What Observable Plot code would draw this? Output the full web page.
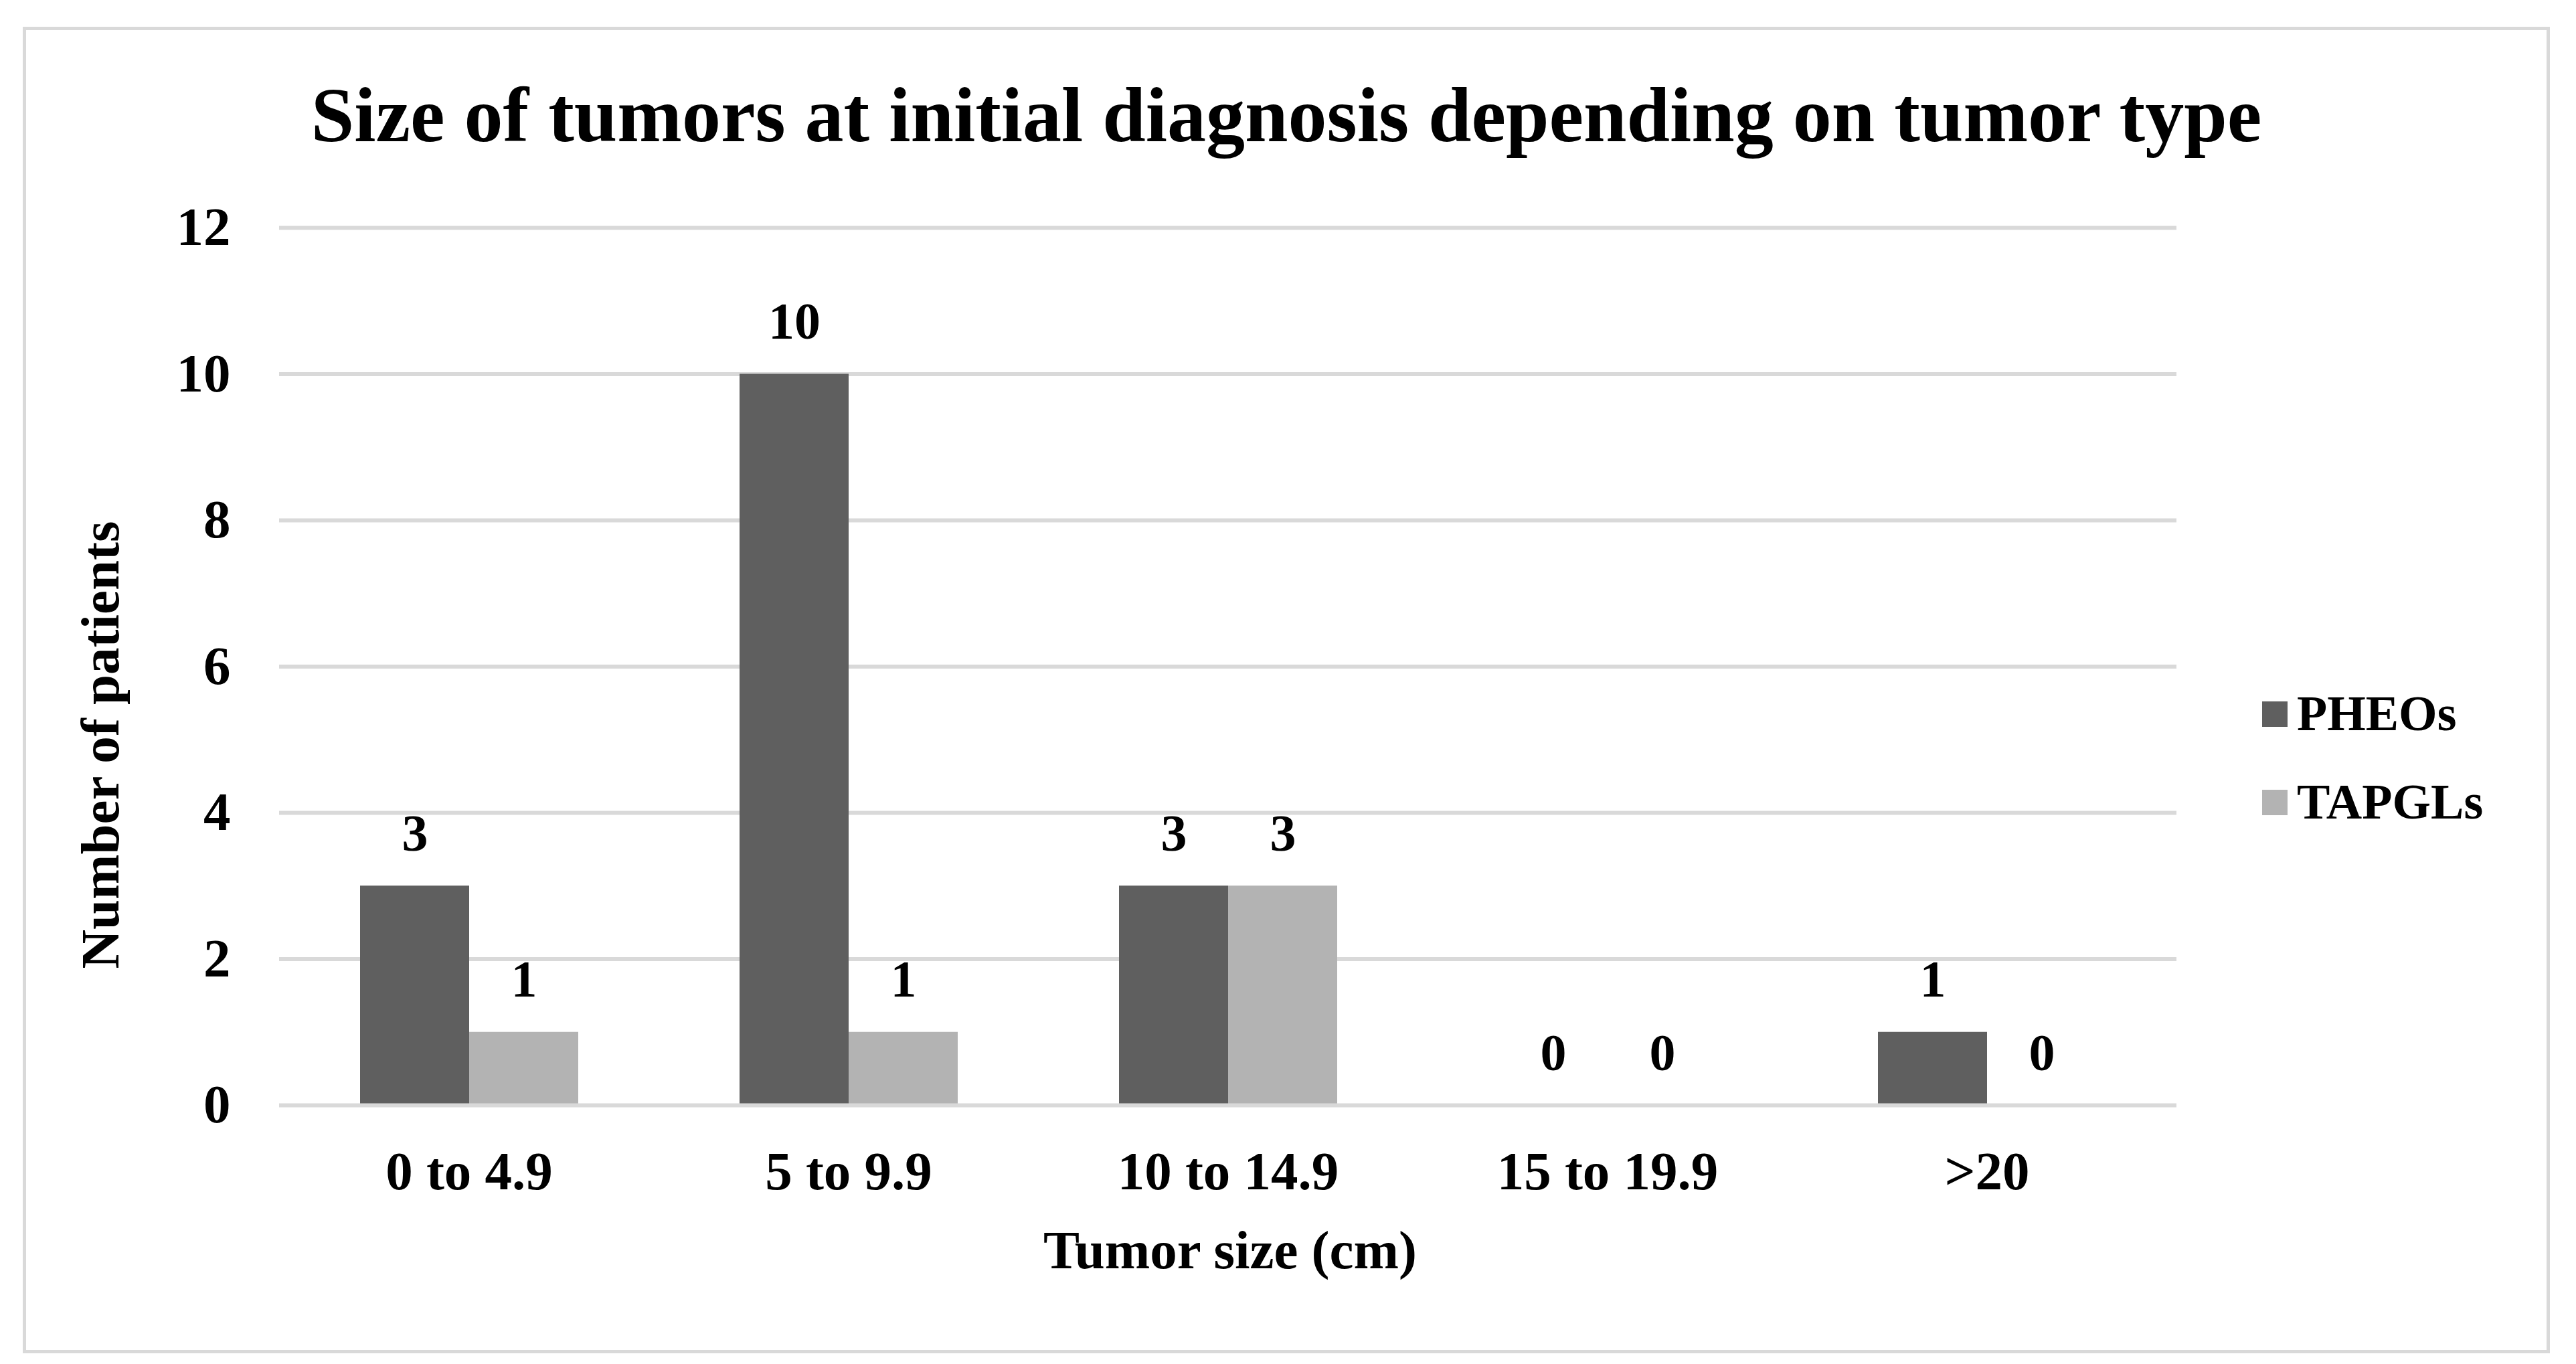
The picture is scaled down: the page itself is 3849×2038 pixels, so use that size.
<!DOCTYPE html>
<html>
<head>
<meta charset="utf-8">
<script src="https://cdn.jsdelivr.net/npm/d3@7"></script>
<script src="https://cdn.jsdelivr.net/npm/@observablehq/plot@0.6"></script>
<style>
  html, body { margin: 0; padding: 0; background: #fff; }
  #wrap { position: relative; width: 3849px; height: 2038px; overflow: hidden;
          font-family: "Liberation Serif", "Times New Roman", serif; font-weight: bold; color: #000; }
  #chart { position: absolute; left: 0; top: 0; }
  .abs { position: absolute; white-space: nowrap; }
  #frame { position: absolute; left: 34px; top: 40px; width: 3776px; height: 1982px;
           border: 5px solid #d9d9d9; box-sizing: border-box; pointer-events: none; }
</style>
</head>
<body>
<div id="wrap">
  <div id="chart"></div>
  <div id="frame"></div>
</div>
<script>
// ---- data ----
const categories = ["0 to 4.9", "5 to 9.9", "10 to 14.9", "15 to 19.9", ">20"];
const seriesNames = ["PHEOs", "TAPGLs"];
const pheos = [3, 10, 3, 0, 1];
const tapgls = [1, 1, 3, 0, 0];
const yTicks = [0, 2, 4, 6, 8, 10, 12];
const seriesColors = ["#5f5f5f", "#b3b3b3"];
const titleText = "Size of tumors at initial diagnosis depending on tumor type";
const xTitle = "Tumor size (cm)";
const yTitle = "Number of patients";

const table = categories.flatMap((c, i) => [
  {category: c, series: seriesNames[0], value: pheos[i]},
  {category: c, series: seriesNames[1], value: tapgls[i]}
]);

const chart = Plot.plot({
  width: 3849,
  height: 2038,
  marginLeft: 417,
  marginRight: 597,
  marginTop: 340,
  marginBottom: 387,
  style: {
    background: "transparent",
    fontFamily: "'Liberation Serif', 'Times New Roman', serif",
    fontWeight: "bold",
    fontSize: "81px",
    color: "#000"
  },
  fx: {domain: categories, padding: 0, axis: "bottom", label: null, tickSize: 0, tickPadding: 68},
  x: {domain: seriesNames, axis: null, paddingInner: 0, paddingOuter: 0.739},
  y: {domain: [0, 12], ticks: 6, tickSize: 0, tickPadding: 73, label: null},
  color: {domain: seriesNames, range: seriesColors},
  marks: [
    Plot.ruleY(yTicks.filter(d => d > 0), {stroke: "#d9d9d9", strokeWidth: 6}),
    Plot.barY(table, {fx: "category", x: "series", y: "value", fill: "series"}),
    Plot.ruleY([0], {stroke: "#d9d9d9", strokeWidth: 6}),
    Plot.text(table, {fx: "category", x: "series", y: "value", text: d => String(d.value),
      lineAnchor: "bottom", dy: -53, fontSize: 78, fill: "#000"})
  ]
});
document.getElementById("chart").appendChild(chart);

// ---- titles & legend (HTML) ----
const wrap = document.getElementById("wrap");
function addDiv(text, css) {
  const d = document.createElement("div");
  d.className = "abs";
  d.textContent = text;
  Object.assign(d.style, css);
  wrap.appendChild(d);
  return d;
}
addDiv(titleText, {left: "34px", width: "3776px", top: "114px", textAlign: "center",
  fontSize: "116px", lineHeight: "116px"});
addDiv(xTitle, {left: "1838px", top: "1828px", transform: "translateX(-50%)",
  fontSize: "81px", lineHeight: "81px"});
addDiv(yTitle, {left: "150px", top: "1113px", transform: "translate(-50%,-50%) rotate(-90deg)",
  fontSize: "81px", lineHeight: "81px"});

const legendTops = [1029, 1161];
const swatchTops = [1048, 1180];
seriesNames.forEach((s, i) => {
  const sw = document.createElement("div");
  sw.className = "abs";
  Object.assign(sw.style, {left: "3380px", top: swatchTops[i] + "px", width: "38px", height: "38px",
    background: seriesColors[i]});
  wrap.appendChild(sw);
  addDiv(s, {left: "3432px", top: legendTops[i] + "px", fontSize: "74px", lineHeight: "74px"});
});
</script>
</body>
</html>
